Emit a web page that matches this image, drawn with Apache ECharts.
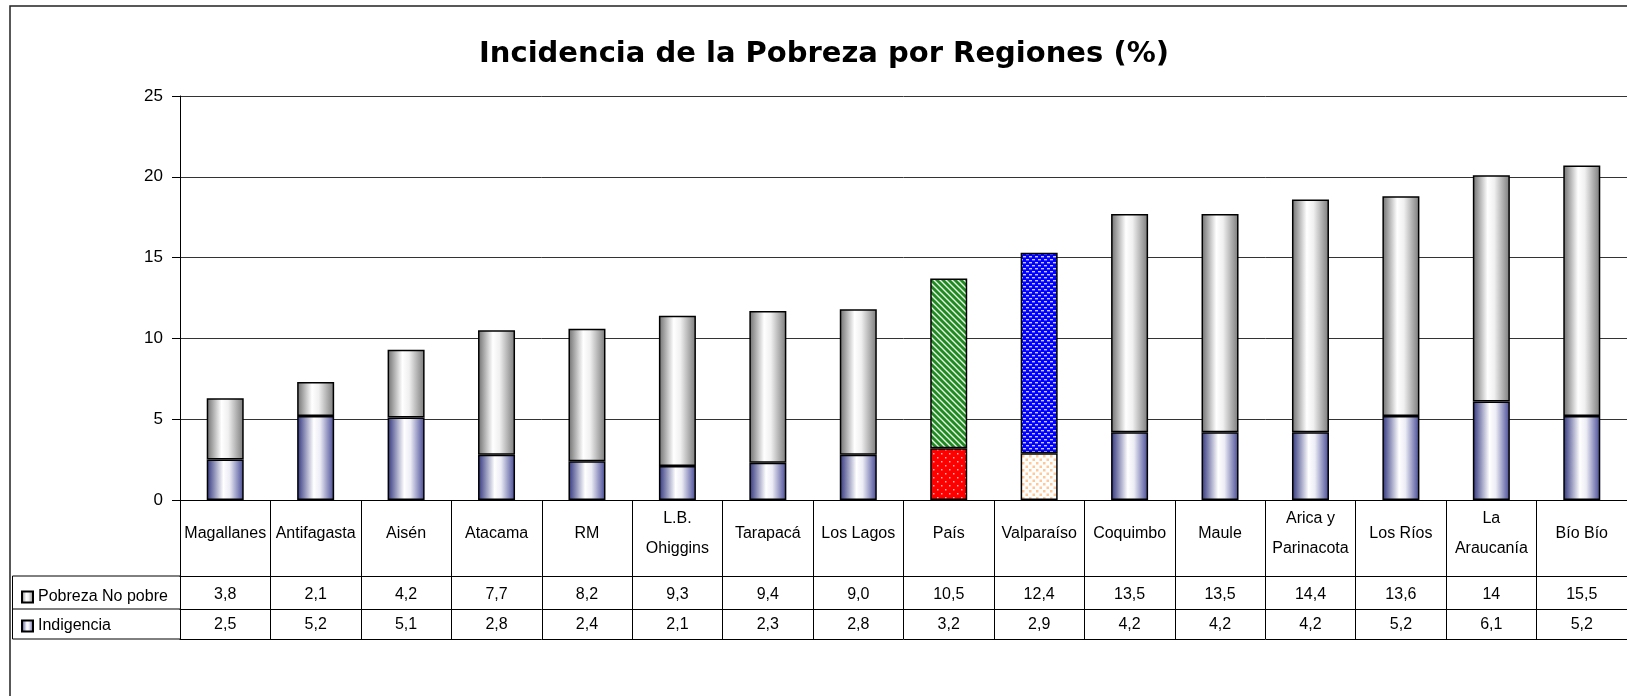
<!DOCTYPE html>
<html>
<head>
<meta charset="utf-8">
<script src="https://cdn.jsdelivr.net/npm/echarts@6/dist/echarts.min.js"></script>
<style>
html,body{margin:0;padding:0;background:#fff;}
#chart{width:1627px;height:696px;}
</style>
</head>
<body>
<div id="chart"></div>
<script>
// ---- data ----
var categories = ['Magallanes','Antifagasta','Aisén','Atacama','RM','L.B.\nOhiggins','Tarapacá','Los Lagos','País','Valparaíso','Coquimbo','Maule','Arica y\nParinacota','Los Ríos','La\nAraucanía','Bío Bío'];
var pobrezaNoPobre = [3.8,2.1,4.2,7.7,8.2,9.3,9.4,9.0,10.5,12.4,13.5,13.5,14.4,13.6,14,15.5];
var indigencia = [2.5,5.2,5.1,2.8,2.4,2.1,2.3,2.8,3.2,2.9,4.2,4.2,4.2,5.2,6.1,5.2];
var pobrezaLabels = ['3,8','2,1','4,2','7,7','8,2','9,3','9,4','9,0','10,5','12,4','13,5','13,5','14,4','13,6','14','15,5'];
var indigenciaLabels = ['2,5','5,2','5,1','2,8','2,4','2,1','2,3','2,8','3,2','2,9','4,2','4,2','4,2','5,2','6,1','5,2'];
var yTicks = [0,5,10,15,20,25];
var titleText = 'Incidencia de la Pobreza por Regiones (%)';
var seriesNames = ['Pobreza No pobre','Indigencia'];

// ---- patterns ----
function makePattern(w, h, draw){
  var c = document.createElement('canvas'); c.width = w; c.height = h;
  var ctx = c.getContext('2d'); draw(ctx, w, h);
  return {image: c, repeat: 'repeat'};
}
var greenHatch = makePattern(6, 6, function(ctx,w,h){
  ctx.fillStyle = '#1f8a1f'; ctx.fillRect(0,0,w,h);
  ctx.strokeStyle = '#e8f4e8'; ctx.lineWidth = 1.4;
  ctx.beginPath();
  ctx.moveTo(-1,-1); ctx.lineTo(w+1,h+1);
  ctx.moveTo(-w-1,-1); ctx.lineTo(1,h+1);
  ctx.moveTo(w-1,-1); ctx.lineTo(2*w+1,h+1);
  ctx.stroke();
});
var redDots = makePattern(8, 8, function(ctx,w,h){
  ctx.fillStyle = '#ff0000'; ctx.fillRect(0,0,w,h);
  ctx.fillStyle = '#ffb4b4';
  ctx.fillRect(1,1,1.5,1.5); ctx.fillRect(5,5,1.5,1.5);
});
var blueBricks = makePattern(6, 6, function(ctx,w,h){
  ctx.fillStyle = '#0000ff'; ctx.fillRect(0,0,w,h);
  ctx.fillStyle = '#c8c8ff';
  ctx.fillRect(0,1,3,1.4); ctx.fillRect(3,4,3,1.4);
});
var peachDots = makePattern(7, 7, function(ctx,w,h){
  ctx.fillStyle = '#ffffff'; ctx.fillRect(0,0,w,h);
  ctx.fillStyle = '#ffc896';
  ctx.fillRect(0,0,2.5,2.5); ctx.fillRect(3.5,3.5,2.5,2.5);
});

var grayGrad = new echarts.graphic.LinearGradient(0,0,1,0,[
  {offset:0,color:'#6e6e6e'},{offset:0.4,color:'#ffffff'},{offset:0.58,color:'#f0f0f0'},{offset:1,color:'#7a7a7a'}]);
var blueGrad = new echarts.graphic.LinearGradient(0,0,1,0,[
  {offset:0,color:'#2f337c'},{offset:0.45,color:'#ffffff'},{offset:0.62,color:'#ececf5'},{offset:1,color:'#444894'}]);

var special = {
  'País': {top: greenHatch, bottom: redDots},
  'Valparaíso': {top: blueBricks, bottom: peachDots}
};
function buildData(values, part){
  return values.map(function(v,i){
    var s = special[categories[i]];
    if (s) return {value: v, itemStyle: {color: s[part]}};
    return v;
  });
}

var FONT = "'Liberation Sans',Arial,sans-serif";
var FS = 16;
var chart = echarts.init(document.getElementById('chart'), null, {renderer:'canvas'});

function tableAxis(offset, labels, margin, showLabel){
  return {
    type:'category', position:'bottom', offset: offset, data: categories,
    axisLine:{show:true, lineStyle:{color:'#000', width:1}},
    axisTick:{show:false},
    axisLabel:{show: showLabel, interval:0, margin: margin, verticalAlign:'middle',
      color:'#000', fontFamily: FONT, fontSize: FS,
      formatter: function(v, i){ return labels ? labels[i] : ''; }},
    splitLine:{show:false}
  };
}

var option = {
  animation:false,
  backgroundColor:'#fff',
  title:{
    text: titleText, left: 479, top: 40, padding: 0,
    textStyle:{fontFamily:"'DejaVu Sans',Verdana,sans-serif", fontWeight:'bold', fontSize:29, color:'#000'}
  },
  legend:{
    orient:'vertical', left: 21, top: 589, padding: 0, itemGap: 13,
    itemWidth: 11, itemHeight: 11, icon:'rect',
    data: seriesNames,
    textStyle:{fontFamily: FONT, fontSize: FS, color:'#000', lineHeight: 16}
  },
  grid:{left:180, top:96, right:-3, bottom:196, containLabel:false},
  xAxis:[
    {
      type:'category', position:'bottom', data: categories,
      axisLine:{show:true, lineStyle:{color:'#000', width:1}},
      axisTick:{show:true, interval:0, length:139, lineStyle:{color:'#000', width:1}},
      axisLabel:{interval:0, margin:34, verticalAlign:'middle', lineHeight:30,
        color:'#000', fontFamily: FONT, fontSize: FS},
      splitLine:{show:false}
    },
    tableAxis(76, pobrezaLabels, 19, true),
    tableAxis(109, indigenciaLabels, 16, true),
    tableAxis(139, null, 10, false)
  ],
  yAxis:{
    type:'value', min: yTicks[0], max: yTicks[yTicks.length-1], interval: 5,
    axisLine:{show:true, lineStyle:{color:'#000', width:1}},
    axisTick:{show:true, length:8, lineStyle:{color:'#000'}},
    axisLabel:{margin:17, color:'#000', fontFamily: FONT, fontSize: 17},
    splitLine:{show:true, lineStyle:{color:'#333', width:1}}
  },
  series:[
    {
      name: seriesNames[1], type:'bar', stack:'total', barWidth: 37,
      itemStyle:{color: blueGrad, borderColor:'#000', borderWidth:1.5},
      data: buildData(indigencia, 'bottom')
    },
    {
      name: seriesNames[0], type:'bar', stack:'total', barWidth: 37,
      itemStyle:{color: grayGrad, borderColor:'#000', borderWidth:1.5},
      data: buildData(pobrezaNoPobre, 'top')
    }
  ],
  graphic:[
    {type:'rect', shape:{x:10, y:6, width:1700, height:800}, style:{fill:'none', stroke:'#222', lineWidth:1.5}, silent:true},
    {type:'line', shape:{x1:12.5, y1:576, x2:180, y2:576}, style:{stroke:'#000', lineWidth:1}, silent:true},
    {type:'line', shape:{x1:12.5, y1:609, x2:180, y2:609}, style:{stroke:'#000', lineWidth:1}, silent:true},
    {type:'line', shape:{x1:12.5, y1:639, x2:180, y2:639}, style:{stroke:'#000', lineWidth:1}, silent:true},
    {type:'line', shape:{x1:12.5, y1:576, x2:12.5, y2:639}, style:{stroke:'#000', lineWidth:1}, silent:true}
  ]
};
chart.setOption(option);
</script>
</body>
</html>
